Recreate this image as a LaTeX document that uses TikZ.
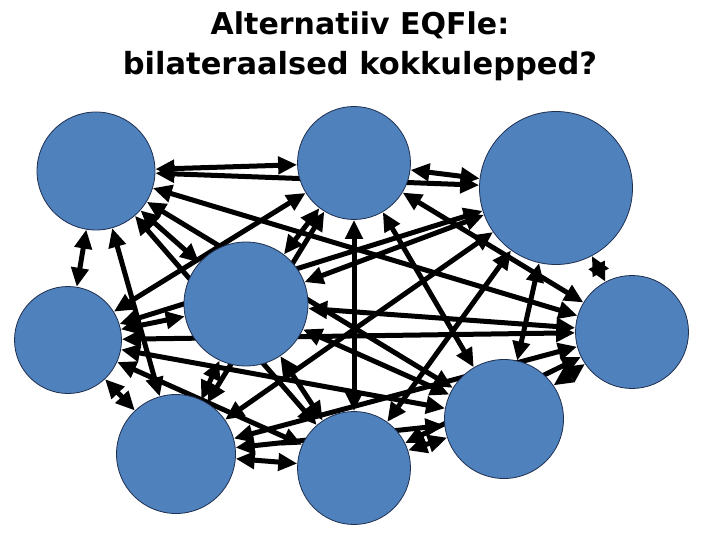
\documentclass[tikz,border=0pt]{standalone}
\usepackage{fontspec}
\setmainfont{DejaVu Sans}
\usetikzlibrary{arrows.meta}
\usetikzlibrary{backgrounds}
\usepackage{xcolor}
\definecolor{ballblue}{HTML}{4F81BD}
\definecolor{balledge}{HTML}{1F2F4F}

\begin{document}
\begin{tikzpicture}[x=1pt,y=-1pt,
  ball/.style={circle, fill=ballblue, draw=balledge, line width=.8pt, inner sep=0},
  link/.style={black, line width=5pt, <->, >={Triangle[length=19pt,width=17pt]}}]
\useasboundingbox (0,0) rectangle (720,540);
\node[anchor=base] (title1) at (360,35) {\fontsize{30}{36}\selectfont\bfseries Alternatiiv EQFle:};
\node[anchor=base] (title2) at (360,75) {\fontsize{30.5}{36}\selectfont\bfseries bilateraalsed kokkulepped?};
% the nine partners
\node[ball, minimum size=118] (tl)  at (96,171)  {};
\node[ball, minimum size=113] (tm)  at (354,163) {};
\node[ball, minimum size=153] (tr)  at (556,188) {};
\node[ball, minimum size=124] (mid) at (246,304) {};
\node[ball, minimum size=107] (lft) at (68,340)  {};
\node[ball, minimum size=113] (rgt) at (632,332) {};
\node[ball, minimum size=119] (bl)  at (176,454) {};
\node[ball, minimum size=113] (bm)  at (354,468) {};
\node[ball, minimum size=119] (br)  at (504,419) {};
% every pair linked
\begin{scope}[on background layer]
\foreach \p/\q in {tl/tm, tl/tr, tl/mid, tl/lft, tl/rgt, tl/bl, tl/bm, tl/br,
                   tm/tr, tm/mid, tm/lft, tm/rgt, tm/bl, tm/bm, tm/br,
                   tr/mid, tr/lft, tr/rgt, tr/bl, tr/bm, tr/br,
                   mid/lft, mid/rgt, mid/bl, mid/bm, mid/br,
                   lft/rgt, lft/bl, lft/bm, lft/br,
                   rgt/bl, rgt/bm, rgt/br,
                   bl/bm, bl/br,
                   bm/br} {
 \draw[link] (\p) -- (\q);
}
\end{scope}
\end{tikzpicture}
\end{document}
